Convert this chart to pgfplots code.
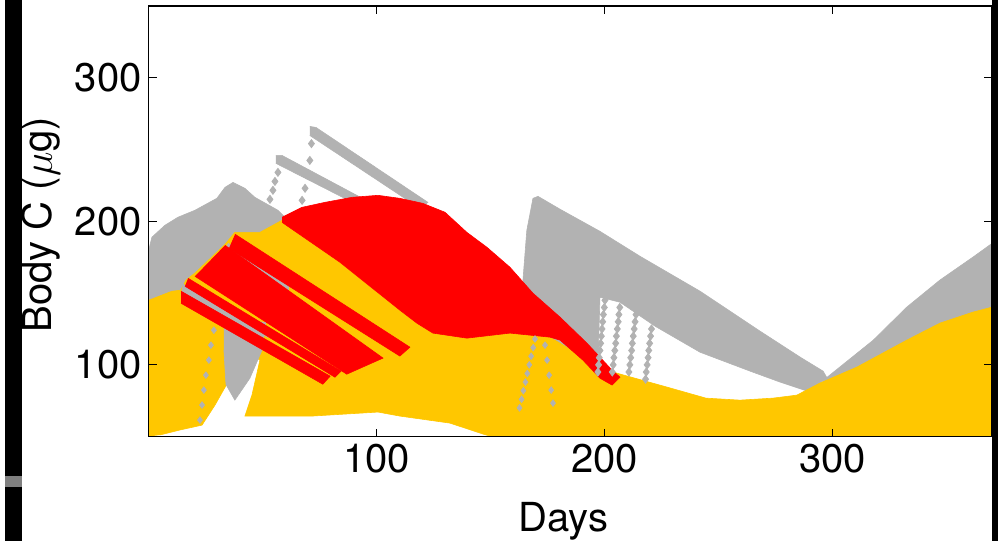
\documentclass[border=0pt]{standalone}
\usepackage{pgfplots}
\pgfplotsset{compat=1.18}
\usepackage{fontspec}
\setmainfont{TeX Gyre Heros}
\definecolor{cgrey}{RGB}{178,178,178}
\definecolor{cyel}{RGB}{255,199,0}
\definecolor{cred}{RGB}{255,0,0}
\begin{document}
\begin{tikzpicture}
\path[use as bounding box] (0,0) rectangle (499pt,-270.5pt);
% edges of the neighbouring panels
\fill[black] (2.5pt,0) rectangle (11pt,-270.5pt);
\fill[gray] (2.5pt,-238pt) rectangle (11pt,-243.5pt);
\fill[black] (496pt,0) rectangle (499pt,-270.5pt);
\begin{axis}[
  at={(74.35pt,-218.3pt)}, anchor=south west,
  width=421.65pt, height=215.3pt, scale only axis,
  xmin=0, xmax=370, ymin=50, ymax=350,
  xtick={100,200,300}, ytick={100,200,300},
  tick align=inside, major tick length=4pt,
  axis line style={line width=0.6pt},
  tick style={line width=0.6pt, black},
  axis on top,
  ticklabel style={font=\fontsize{20}{24}\selectfont},
  /pgf/number format/assume math mode=true,
  xlabel={Days}, ylabel={Body C ($\mu$g)},
  label style={font=\fontsize{20}{24}\selectfont},
  xlabel style={at={(axis description cs:0.4916,-0.2193)}, anchor=base},
  ylabel style={at={(axis description cs:-0.1147,0.492)}, anchor=base},
]
% ---- grey (back)
\addplot[fill=cgrey, draw=cgrey, line width=0.3pt] coordinates {
(0,145.0) (0,179.8) (1.4,188.9) (7.1,197.2) (12.8,202.8) (20.3,207.7)
(29.9,216.0) (33.5,223.7) (37.0,227.1) (42.2,223.0) (46.6,216.7) (56.7,207.7)
(62.0,199.3) (66.4,179.8) (48.8,152.0) (22.5,145.0)};
\addplot[fill=cgrey, draw=cgrey, line width=0.3pt] coordinates {
(70.7,266.1) (73.4,265.4) (122.5,213.2) (119.0,209.0) (70.7,259.8)};
\addplot[fill=cgrey, draw=cgrey, line width=0.3pt] coordinates {
(55.8,245.9) (58.5,245.9) (97.9,212.5) (96.2,207.7) (55.8,240.4)};
\addplot[only marks, mark=diamond*, mark size=2pt, color=cgrey] coordinates {
(71.4,254.1) (70.7,242.4) (69.4,232.7) (68.6,223.0) (67.3,214.6)
(56.7,234.1) (55.4,227.8) (54.5,221.6) (53.2,215.3)};
\addplot[fill=cgrey, draw=cgrey, line width=0.3pt] coordinates {
(164.2,158.9) (165.9,193.7) (168.6,216.0) (170.8,217.4) (180.5,208.4)
(198.0,193.0) (215.6,175.6) (241.9,151.3) (268.2,123.5) (285.8,105.4)
(295.9,95.6) (297.7,90.7) (288.9,81.7) (277.0,88.0) (263.9,95.6)
(241.9,108.8) (222.2,126.9) (206.8,143.6) (198.0,147.1) (197.1,100)
(185.0,100) (162.9,118)};
\addplot[only marks, mark=diamond*, mark size=2pt, color=cgrey] coordinates {
(200.2,145) (199.9,140) (199.5,135) (199.2,130) (198.9,125) (198.6,120)
(198.3,115) (198.0,110) (197.7,105) (197.4,100) (197.1,95)
(206.7,140) (206.3,135) (206.0,130) (205.6,125) (205.2,120) (204.9,115)
(204.5,110) (204.1,105) (203.8,100) (203.4,95)
(213.8,135) (213.4,130) (213.0,125) (212.6,120) (212.2,115) (211.9,110)
(211.5,105) (211.1,100) (210.7,95)
(220.6,125) (220.2,120) (219.8,115) (219.4,110) (219.1,105) (218.7,100)
(218.3,95) (218.0,90)};
\addplot[fill=cgrey, draw=cgrey, line width=0.3pt] coordinates {
(294.5,85.9) (297.7,91.4) (317.9,117.2) (332.6,140.2) (347.1,159.0)
(361.6,175.0) (370,184.6) (370,131.1) (294.5,79.0)};
% ---- yellow
\addplot[fill=cyel, draw=cyel, line width=0.3pt] coordinates {
(0,50) (0,145.0) (10.2,151.3) (14.1,152.0) (16.3,158.9) (20.7,164.5)
(33.5,184.0) (37.8,192.3) (48.8,192.3) (58.5,200.7) (83.9,171.5)
(110.2,138.1) (117.7,129.0) (124.7,122.1) (139.6,118.6) (158.5,122.1)
(176.0,119.3) (190.5,105.4) (205.4,94.2) (227.4,84.5) (244.5,76.8)
(259.4,75.4) (273.9,76.8) (284.4,78.9) (294.5,87.3) (310.7,98.4)
(332.6,117.2) (347.1,129.0) (361.6,136.7) (370,140.2) (370,50)
(150.6,50) (146.6,51.8) (132.2,59.4) (110.2,64.3) (100.6,67.1)
(71.6,64.3) (42.2,64.3) (45.3,78.9) (48.8,103.3) (42.2,110.2)
(36.5,92.8) (29.1,72.0) (23.4,58.0) (13.7,54.6) (4.9,51.1)};
% ---- grey over yellow
\addplot[fill=cgrey, draw=cgrey, line width=0.3pt] coordinates {
(34.8,184.7) (62.0,158.2) (61.1,150.6) (33.0,179.8)};
\addplot[fill=cgrey, draw=cgrey, line width=0.3pt] coordinates {
(15.0,156.2) (53.2,124.1) (52.3,119.2) (14.1,149.2)};
\addplot[fill=cgrey, draw=cgrey, line width=0.3pt] coordinates {
(33.0,131.1) (51.4,129.7) (49.7,110.2) (44.4,90.7) (37.8,75.4)
(33.9,86.3) (33.0,110.2)};
\addplot[only marks, mark=diamond*, mark size=1.6pt, color=cgrey] coordinates {
(28.6,124.1) (27.3,113.7) (26.4,103.3) (25.1,92.8) (24.2,82.4)
(23.4,72.0) (22.5,61.5)
(169.5,118) (168.7,112) (167.8,106) (167.0,100) (166.1,94) (165.3,88)
(164.4,82) (163.6,76) (162.7,70)
(173.9,113.7) (174.8,103.3) (175.7,92.8) (176.6,82.4) (177.4,73.3)};
% ---- red
\addplot[fill=cred, draw=cred, line width=0.3pt] coordinates {
(58.5,202.8) (67.2,209.7) (77.3,213.2) (89.2,216.7) (100.6,218.1)
(110.2,216.0) (120.3,212.5) (130.0,206.3) (139.6,192.3) (148.4,181.9)
(158.5,168.0) (168.6,149.9) (180.5,133.2) (192.3,115.1) (203.3,96.3)
(206.8,91.4) (203.3,85.9) (198.0,90.7) (190.5,103.3) (180.5,117.2)
(176.0,119.3) (158.5,122.1) (139.6,118.6) (124.7,122.1) (117.7,129.0)
(110.2,138.1) (83.9,171.5) (58.5,199.3)};
\addplot[fill=cred, draw=cred, line width=0.3pt] coordinates {
(37.9,191.0) (114.6,112.3) (110.2,106.1) (35.2,181.2)};
\addplot[fill=cred, draw=cred, line width=0.3pt] coordinates {
(33.5,183.3) (102.8,104.7) (86.9,93.5) (20.3,161.7)};
\addplot[fill=cred, draw=cred, line width=0.3pt] coordinates {
(17.3,160.3) (84.4,95.6) (81.7,91.4) (15.9,154.8)};
\addplot[fill=cred, draw=cred, line width=0.3pt] coordinates {
(14.2,151.3) (79.6,92.1) (76.4,86.5) (14.2,142.9)};
\end{axis}
\end{tikzpicture}
\end{document}
